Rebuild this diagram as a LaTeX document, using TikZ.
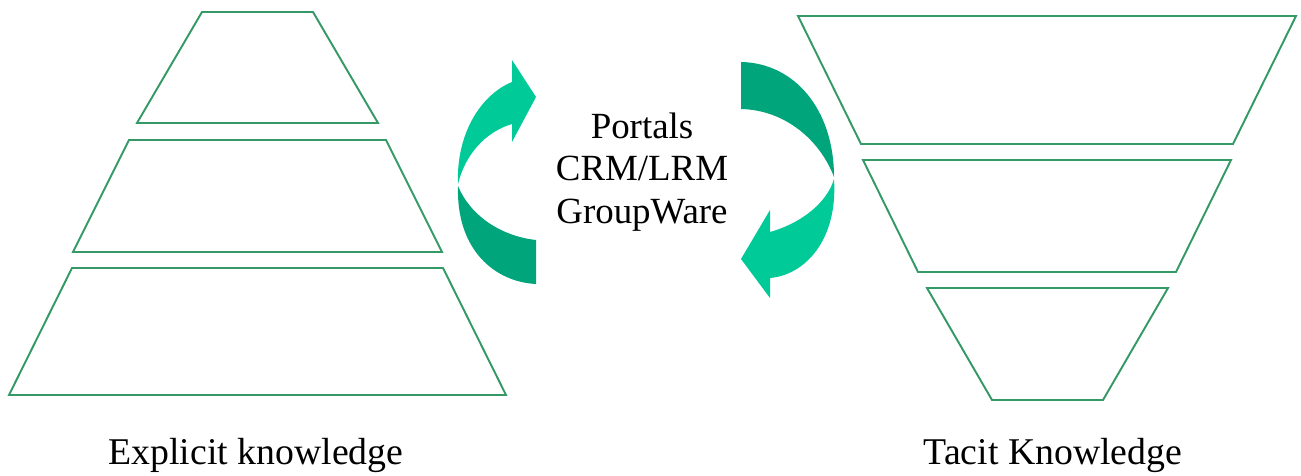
\documentclass[tikz,border=0pt]{standalone}
\usepackage{fontspec}
\setmainfont{Liberation Serif}
\usepackage{tikz}
\usetikzlibrary{positioning}
\definecolor{layergreen}{RGB}{52,153,102}
\definecolor{arrowlight}{RGB}{0,202,152}
\definecolor{arrowdark}{RGB}{0,165,123}

\begin{document}
\begin{tikzpicture}[x=0.02cm, y=-0.02cm]
	\tikzstyle{layer}=[draw=layergreen, line width=1.1pt, line join=miter]
	\tikzstyle{caption}=[font=\fontsize{21.5}{24}\selectfont, anchor=base, inner sep=0pt]

	\useasboundingbox (0,0) rectangle (1301,476);

	% pyramid (left) and funnel (right)
	\foreach \a/\b/\c/\d/\ytop/\ybot in {202/313/137/378/12/123, 129/386/73/442/140/252, 72/443/9/506/268/395, 798/1296/861/1233/16/144, 863/1231/918/1176/160/272, 927/1168/992/1103/288/400}{
		\draw[layer] (\a,\ytop) -- (\b,\ytop) -- (\d,\ybot) -- (\c,\ybot) -- cycle;
	}

	% left circular arrow
	\fill[arrowlight] (458,184) .. controls (456,135) and (480,95) .. (512,82)
		-- (512,60) -- (536,97) -- (512,142) -- (512,124)
		.. controls (485,132) and (465,155) .. (458,184) -- cycle;
	\fill[arrowdark] (458,186) .. controls (456,250) and (495,282) .. (536,284)
		-- (536,240) .. controls (500,236) and (470,215) .. (458,186) -- cycle;

	% right circular arrow
	\fill[arrowdark] (741,62) .. controls (795,63) and (834,110) .. (834,177)
		.. controls (820,140) and (785,110) .. (741,109) -- cycle;
	\fill[arrowlight] (834,179) .. controls (838,240) and (805,275) .. (770,278)
		-- (770,298) -- (741,259) -- (770,210) -- (770,232)
		.. controls (805,222) and (828,200) .. (834,179) -- cycle;

	\node[font=\fontsize{21}{24}\selectfont, align=center] (tools) at (642,172) {Portals\\CRM/LRM\\GroupWare};
	\node[caption] (explicit) at (256,464) {Explicit knowledge};
	\node[caption] (tacit) at (1053,464) {Tacit Knowledge};
\end{tikzpicture}
\end{document}
